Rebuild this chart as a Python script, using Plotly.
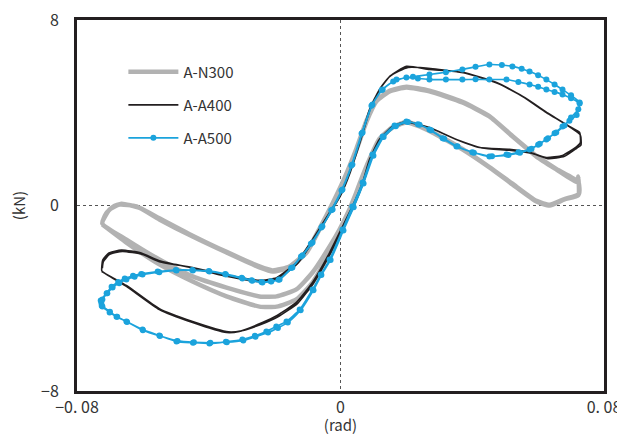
import plotly.graph_objects as go

# ---------------- data (rad, kN) ----------------
n300_x = [
    -0.0723, -0.0701, -0.0671, -0.0619, -0.0550, -0.0449, -0.0346, -0.0246, -0.0206, -0.0155,
    -0.0103, -0.0064, -0.0024, 0.0012, 0.0049, 0.0079, 0.0109, 0.0149, 0.0200, 0.0270,
    0.0370, 0.0452, 0.0522, 0.0595, 0.0656, 0.0720, 0.0722, 0.0722, 0.0680, 0.0635,
    0.0595, 0.0522, 0.0452, 0.0370, 0.0301, 0.0240, 0.0200, 0.0158, 0.0118, 0.0088,
    0.0058, 0.0027, -0.0003, -0.0033, -0.0085, -0.0134, -0.0194, -0.0246, -0.0346, -0.0449,
    -0.0550, -0.0650, -0.0723,
    -0.0712, -0.0690, -0.0665, -0.0610, -0.0550, -0.0449, -0.0346, -0.0246, -0.0206, -0.0155,
    -0.0103, -0.0064, -0.0024, 0.0012, 0.0049, 0.0079, 0.0109, 0.0149, 0.0200, 0.0270,
    0.0370, 0.0452, 0.0522, 0.0595, 0.0656, 0.0722, 0.0724, 0.0680, 0.0635, 0.0595,
    0.0522, 0.0452, 0.0370, 0.0301, 0.0240, 0.0200, 0.0158, 0.0118, 0.0088, 0.0058,
    0.0036, 0.0006, -0.0033, -0.0085, -0.0134, -0.0194, -0.0246, -0.0346, -0.0449, -0.0550,
    -0.0650, -0.0723,
]
n300_y = [
    -0.69, -0.17, 0.04, -0.04, -0.60, -1.34, -2.03, -2.67, -2.85, -2.67,
    -2.03, -1.04, 0.04, 1.12, 2.42, 3.62, 4.49, 4.92, 5.09, 4.92,
    4.44, 3.84, 2.98, 2.11, 1.55, 0.99, 1.25, 0.45, 0.26, 0.00,
    0.17, 0.91, 1.64, 2.42, 2.98, 3.41, 3.58, 3.36, 2.85, 1.98,
    0.91, -0.17, -1.04, -1.77, -2.89, -3.62, -3.92, -3.92, -3.54, -3.06,
    -2.33, -1.47, -0.78,
    -0.35, -0.05, 0.08, -0.10, -0.55, -1.30, -2.00, -2.63, -2.80, -2.63,
    -2.00, -1.00, 0.10, 1.18, 2.48, 3.66, 4.52, 4.95, 5.12, 4.95,
    4.47, 3.86, 3.00, 2.14, 1.57, 1.02, 0.50, 0.28, 0.03, 0.20,
    0.94, 1.66, 2.44, 3.00, 3.43, 3.60, 3.38, 2.87, 2.00, 0.95,
    0.10, -0.91, -2.03, -3.32, -4.05, -4.36, -4.36, -3.92, -3.28, -2.54,
    -1.60, -0.82,
]

a400_x = [
    -0.0723, -0.0720, -0.0701, -0.0662, -0.0601, -0.0550, -0.0449, -0.0346, -0.0246, -0.0194,
    -0.0134, -0.0085, -0.0033, -0.0003, 0.0027, 0.0058, 0.0088, 0.0118, 0.0149, 0.0200,
    0.0270, 0.0370, 0.0474, 0.0553, 0.0625, 0.0695, 0.0726, 0.0728, 0.0717, 0.0674,
    0.0625, 0.0574, 0.0513, 0.0422, 0.0352, 0.0270, 0.0200, 0.0158, 0.0118, 0.0088,
    0.0067, 0.0036, 0.0006, -0.0033, -0.0085, -0.0134, -0.0194, -0.0237, -0.0307, -0.0346,
    -0.0449, -0.0550, -0.0650, -0.0723,
    -0.0725, -0.0722, -0.0703, -0.0665, -0.0605, -0.0550, -0.0449, -0.0346, -0.0250, -0.0190,
    -0.0130, -0.0082, -0.0030, 0.0000, 0.0030, 0.0061, 0.0091, 0.0121, 0.0152, 0.0205,
    0.0280, 0.0380, 0.0480, 0.0560, 0.0630, 0.0700, 0.0728, 0.0730, 0.0718, 0.0680,
    0.0630, 0.0580, 0.0513, 0.0430, 0.0360, 0.0280, 0.0205, 0.0162, 0.0122, 0.0092,
    0.0070, 0.0040, 0.0010, -0.0030, -0.0082, -0.0130, -0.0190, -0.0240, -0.0300, -0.0340,
    -0.0449, -0.0550, -0.0650, -0.0725,
]
a400_y = [
    -2.70, -2.42, -2.11, -1.98, -2.11, -2.42, -2.67, -3.00, -3.23, -3.11,
    -2.46, -1.47, -0.30, 0.39, 1.42, 2.72, 4.14, 5.00, 5.56, 6.00,
    5.87, 5.74, 5.30, 4.70, 4.01, 3.41, 3.15, 2.70, 2.54, 2.16,
    2.07, 2.29, 2.42, 2.50, 2.85, 3.36, 3.62, 3.41, 2.85, 1.98,
    0.99, -0.04, -0.91, -2.03, -3.32, -4.18, -4.75, -5.05, -5.43, -5.48,
    -5.05, -4.49, -3.49, -2.85,
    -2.80, -2.35, -2.05, -1.92, -2.05, -2.38, -2.70, -3.05, -3.28, -3.15,
    -2.50, -1.50, -0.30, 0.42, 1.45, 2.80, 4.20, 5.05, 5.60, 5.95,
    5.90, 5.70, 5.25, 4.65, 3.98, 3.35, 3.05, 2.60, 2.48, 2.12,
    2.02, 2.25, 2.38, 2.48, 2.80, 3.30, 3.58, 3.38, 2.80, 1.95,
    1.00, -0.05, -0.90, -2.05, -3.35, -4.22, -4.80, -5.12, -5.40, -5.45,
    -5.00, -4.45, -3.45, -2.85,
]

a500_x = [
    -0.0726, -0.0723, -0.0708, -0.0692, -0.0672, -0.0650, -0.0625, -0.0601, -0.0550, -0.0498,
    -0.0448, -0.0398, -0.0348, -0.0298, -0.0268, -0.0237, -0.0210, -0.0185, -0.0146, -0.0115,
    -0.0085, -0.0055, -0.0024, 0.0006, 0.0036, 0.0067, 0.0097, 0.0128, 0.0170, 0.0220,
    0.0270, 0.0320, 0.0370, 0.0410, 0.0452, 0.0490, 0.0522, 0.0550, 0.0574, 0.0600,
    0.0625, 0.0650, 0.0674, 0.0700, 0.0726, 0.0717, 0.0695, 0.0674, 0.0650, 0.0625,
    0.0600, 0.0574, 0.0540, 0.0504, 0.0452, 0.0400, 0.0352, 0.0310, 0.0270, 0.0235,
    0.0200, 0.0164, 0.0128, 0.0097, 0.0067, 0.0036, 0.0006, -0.0033, -0.0060, -0.0085,
    -0.0124, -0.0164, -0.0195, -0.0225, -0.0260, -0.0298, -0.0348, -0.0398, -0.0448, -0.0498,
    -0.0550, -0.0601, -0.0650, -0.0680, -0.0701, -0.0723,
    -0.0728, -0.0710, -0.0695, -0.0675, -0.0655, -0.0630, -0.0605, -0.0555, -0.0500, -0.0450,
    -0.0400, -0.0350, -0.0300, -0.0270, -0.0240, -0.0212, -0.0188, -0.0150, -0.0120, -0.0090,
    -0.0058, -0.0028, 0.0003, 0.0033, 0.0064, 0.0094, 0.0125, 0.0160, 0.0200, 0.0235,
    0.0270, 0.0320, 0.0370, 0.0410, 0.0452, 0.0504, 0.0540, 0.0574, 0.0600, 0.0625,
    0.0650, 0.0674, 0.0700, 0.0726, 0.0722, 0.0700, 0.0680, 0.0655, 0.0630, 0.0605,
    0.0580, 0.0545, 0.0510, 0.0460, 0.0405, 0.0355, 0.0315, 0.0275, 0.0240, 0.0205,
    0.0168, 0.0131, 0.0100, 0.0070, 0.0040, 0.0009, -0.0030, -0.0058, -0.0082, -0.0121,
    -0.0160, -0.0190, -0.0220, -0.0258, -0.0295, -0.0345, -0.0395, -0.0445, -0.0495, -0.0548,
    -0.0600, -0.0648, -0.0678, -0.0700, -0.0725,
]
a500_y = [
    -4.20, -4.05, -3.78, -3.54, -3.35, -3.19, -3.07, -2.98, -2.88, -2.80,
    -2.80, -2.85, -2.98, -3.15, -3.25, -3.32, -3.28, -3.19, -2.67, -2.15,
    -1.60, -0.90, -0.17, 0.69, 1.77, 3.15, 4.36, 5.00, 5.43, 5.55,
    5.65, 5.75, 5.87, 5.98, 6.08, 6.06, 6.00, 5.90, 5.78, 5.62,
    5.43, 5.22, 5.00, 4.75, 4.44, 3.90, 3.65, 3.41, 3.12, 2.85,
    2.62, 2.42, 2.30, 2.20, 2.11, 2.30, 2.54, 2.90, 3.28, 3.50,
    3.62, 3.45, 2.98, 2.20, 0.99, -0.04, -1.04, -2.33, -2.98, -3.62,
    -4.49, -5.00, -5.22, -5.43, -5.62, -5.78, -5.88, -5.95, -5.92, -5.87,
    -5.61, -5.35, -5.00, -4.80, -4.61, -4.36,
    -4.10, -3.78, -3.50, -3.30, -3.15, -3.03, -2.95, -2.85, -2.78, -2.78,
    -2.82, -2.95, -3.12, -3.22, -3.30, -3.27, -3.20, -2.70, -2.20, -1.65,
    -0.95, -0.20, 0.65, 1.72, 3.10, 4.30, 4.98, 5.35, 5.52, 5.48,
    5.43, 5.43, 5.43, 5.44, 5.43, 5.43, 5.33, 5.22, 5.12, 5.00,
    4.90, 4.79, 4.62, 4.40, 4.15, 3.80, 3.45, 3.15, 2.90, 2.66,
    2.45, 2.28, 2.18, 2.12, 2.28, 2.55, 2.88, 3.25, 3.48, 3.60,
    3.42, 2.95, 2.15, 0.95, -0.08, -1.08, -2.35, -3.00, -3.65, -4.52,
    -5.05, -5.28, -5.48, -5.66, -5.82, -5.90, -5.92, -5.90, -5.84, -5.63,
    -5.38, -5.02, -4.80, -4.58, -4.32,
]

series_names = ["A-N300", "A-A400", "A-A500"]
x_tickvals = [-0.08, 0, 0.08]
x_ticktext = ["\u22120. 08", "0", "0. 08"]
y_tickvals = [-8, 0, 8]
y_ticktext = ["\u22128", "0", "8"]

FONT = "Noto Sans CJK JP"
INK = "#231f20"

fig = go.Figure()
fig.add_trace(go.Scatter(
    x=n300_x, y=n300_y, name=series_names[0], mode="lines", legendgroup="g1",
    line=dict(color="#b2b2b2", width=4.5, shape="spline", smoothing=0.5),
))
fig.add_trace(go.Scatter(
    x=a400_x, y=a400_y, name=series_names[1], mode="lines", legendgroup="g2",
    line=dict(color=INK, width=1.6, shape="spline", smoothing=0.5),
))
fig.add_trace(go.Scatter(
    x=a500_x, y=a500_y, name=series_names[2], mode="lines+markers", legendgroup="g3",
    line=dict(color="#1ba3dc", width=1.6, shape="spline", smoothing=0.5),
    marker=dict(color="#1ba3dc", size=6),
))

# the page body has an 8 px default margin, so the figure is sized to fit the window
fig.update_layout(
    width=617, height=427,
    margin=dict(l=69, r=21, t=12, b=44),
    paper_bgcolor="white", plot_bgcolor="white",
    font=dict(family=FONT, color="#333333", size=15),
    showlegend=True,
    legend=dict(
        x=0.088, y=0.904, xanchor="left", yanchor="top",
        bgcolor="rgba(0,0,0,0)", traceorder="grouped", tracegroupgap=10.5,
        font=dict(family=FONT, size=15, color="#333333"), itemwidth=50,
    ),
)
fig.update_xaxes(
    range=[-0.08, 0.08], tickvals=x_tickvals, ticktext=x_ticktext,
    showline=True, mirror=True, linewidth=3, linecolor=INK,
    showgrid=True, gridcolor="#555555", griddash="dot", gridwidth=1,
    zeroline=False, ticks="", ticklabelstandoff=0, automargin=False,
    ticklabeloverflow="allow",
    tickfont=dict(family=FONT, size=16, color="#333333"),
    title=dict(text="(rad)", standoff=7, font=dict(family=FONT, size=15, color="#333333")),
)
fig.update_yaxes(
    range=[-8, 8], tickvals=y_tickvals, ticktext=y_ticktext,
    showline=True, mirror=True, linewidth=3, linecolor=INK,
    showgrid=True, gridcolor="#555555", griddash="dot", gridwidth=1,
    zeroline=False, ticks="", ticklabelstandoff=12, automargin=False,
    ticklabeloverflow="allow",
    tickfont=dict(family=FONT, size=16, color="#333333"),
    title=dict(text="(kN)", standoff=28, font=dict(family=FONT, size=15, color="#333333")),
)

fig.write_html("out.html")
